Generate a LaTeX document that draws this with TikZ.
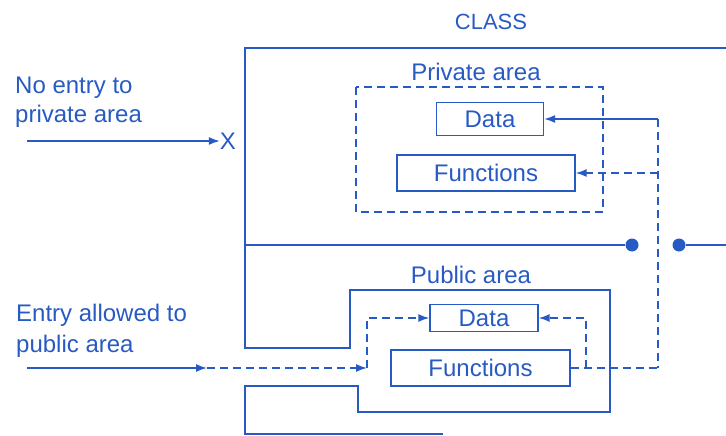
\documentclass[tikz,border=0pt]{standalone}
\usepackage{fontspec}
\setmainfont{Liberation Sans}
\usetikzlibrary{arrows.meta}
\definecolor{ink}{RGB}{40,90,195}
\begin{document}
\begin{tikzpicture}[x=1pt,y=-1pt,
  line/.style={draw=ink,line width=1.4pt},
  dline/.style={line,dash pattern=on 8pt off 5pt},
  tip/.style={-{Latex[length=11pt,width=8pt]}},
  box/.style={draw=ink,line width=1.4pt,inner sep=0pt,text=ink,font=\fontsize{24}{24}\selectfont},
  lbl/.style={text=ink,inner sep=0pt,font=\fontsize{24}{29}\selectfont},
  dot/.style={circle,fill=ink,inner sep=0pt,minimum size=13pt}]
\useasboundingbox (0,0) rectangle (726,436);
% labels
\node[lbl,font=\fontsize{22}{22}\selectfont] (cls) at (491,22) {CLASS};
\node[lbl] (priv) at (476,72) {Private area};
\node[lbl] (pub) at (471,275) {Public area};
\node[lbl,anchor=base west,align=left] (noent) at (15,122) {No entry to\\private area};
\node[lbl,anchor=base west,align=left,font=\fontsize{24}{31}\selectfont] (ent) at (16,352) {Entry allowed to\\public area};
\node[lbl] (xx) at (228,141) {X};
% class outline
\draw[line] (726,48) -- (245,48) -- (245,348) -- (350,348) -- (350,290) -- (610,290)
  -- (610,412) -- (358,412) -- (358,386) -- (245,386) -- (245,434) -- (443,434);
% divider with dots
\node[dot] (d1) at (632,245) {};
\node[dot] (d2) at (679,245) {};
\coordinate (dl) at (245,245);
\coordinate (dr) at (726,245);
\draw[line] (dl) -- (d1);
\draw[line] (d2) -- (dr);
% private area
\draw[dline] (356,87) rectangle (603,212);
\node[box,minimum width=107pt,minimum height=33pt] (pdata) at (490,119) {Data};
\node[box,minimum width=178pt,minimum height=36pt] (pfun) at (486,173) {Functions};
% public area
\node[box,minimum width=108pt,minimum height=27pt] (udata) at (484,318) {Data};
\node[box,minimum width=179pt,minimum height=36pt] (ufun) at (480.5,368) {Functions};
% connectors on right
\coordinate (vt) at (658,119);
\coordinate (vm) at (658,173);
\coordinate (vb) at (658,368);
\coordinate (ub) at (586,368);
\coordinate (ut) at (586,318);
\draw[line,tip] (vt) -- (pdata.east);
\draw[dline] (vt) -- (vb);
\draw[dline,tip] (vm) -- (pfun.east);
\draw[dline] (ufun.east) -- (vb);
\draw[dline,tip] (ub) -- (ut) -- (udata.east);
% no entry arrow
\coordinate (n0) at (27,141);
\draw[line,tip] (n0) -- (xx.west);
% entry arrow
\coordinate (e0) at (27,368);
\coordinate (e1) at (207,368);
\coordinate (e2) at (367,368);
\coordinate (e3) at (367,318);
\draw[line,tip] (e0) -- (e1);
\draw[dline,tip] (e1) -- (e2);
\draw[dline,tip] (e2) -- (e3) -- (udata.west);
\end{tikzpicture}
\end{document}
